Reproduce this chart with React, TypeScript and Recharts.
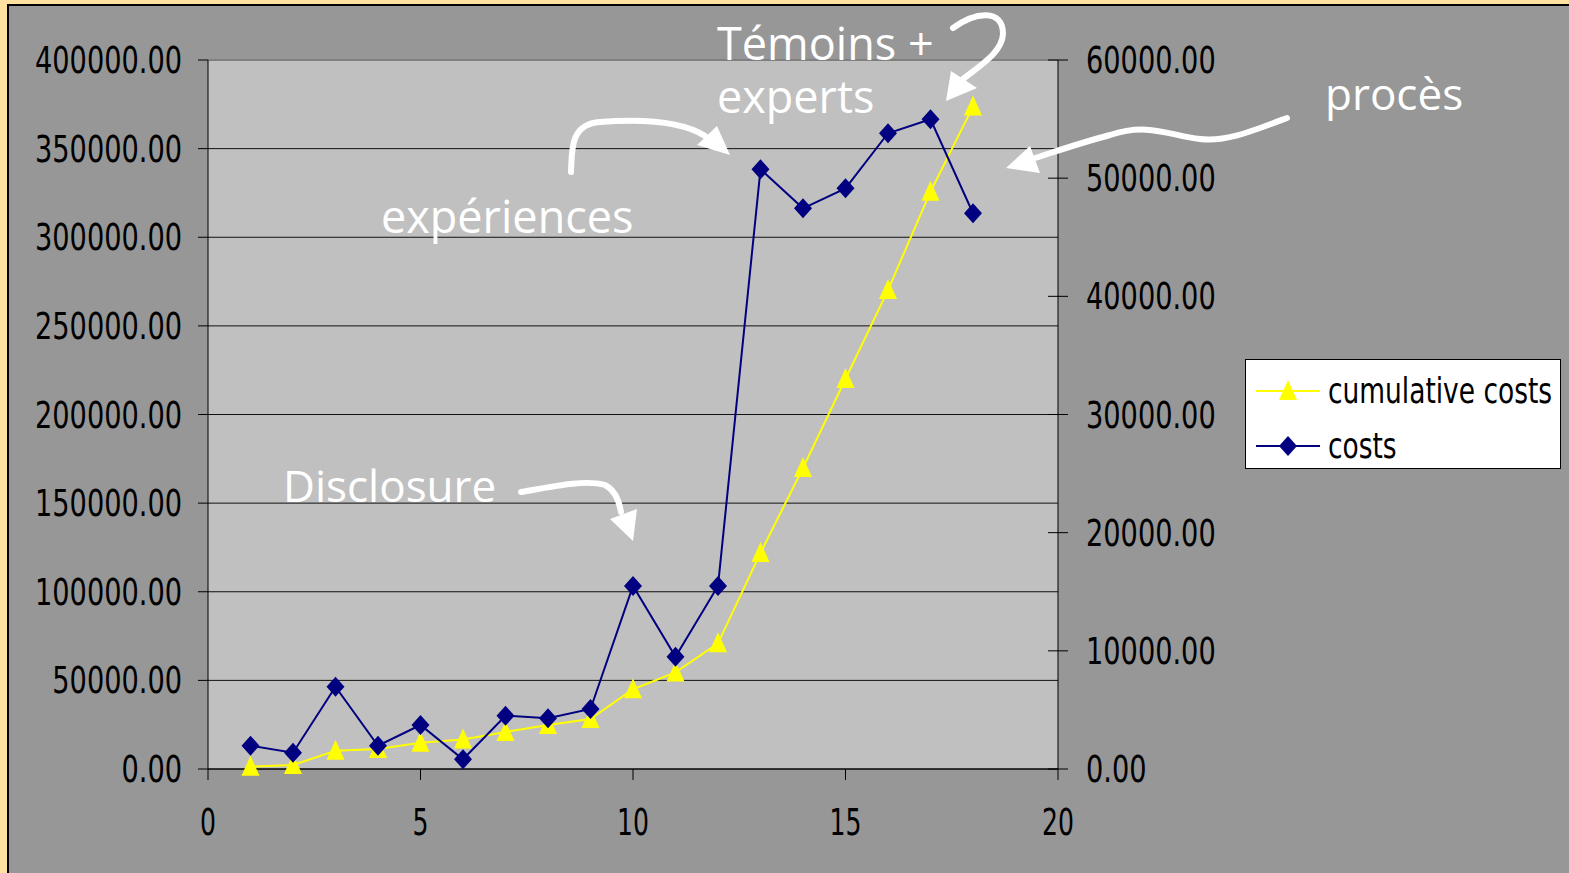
import React from 'react'
import {
  LineChart,
  Line,
  XAxis,
  YAxis,
  CartesianGrid,
  ReferenceLine,
  Legend,
} from 'recharts'

// ── Data ──────────────────────────────────────────────────────────────────────

const PERIODS = [1, 2, 3, 4, 5, 6, 7, 8, 9, 10, 11, 12, 13, 14, 15, 16, 17, 18]

const CUMULATIVE_COSTS = [
  1300, 2250, 10300, 11300, 14800, 16700, 20900, 24800, 28200,
  45000, 54500, 70900, 121900, 169800, 220000, 270200, 325700, 373700,
]

const COSTS = [
  1970, 1380, 6960, 1970, 3720, 820, 4510, 4290, 5080,
  15490, 9500, 15490, 50750, 47450, 49140, 53800, 54980, 47030,
]

const X_TICKS = [0, 5, 10, 15, 20]
const LEFT_TICKS = [0, 50000, 100000, 150000, 200000, 250000, 300000, 350000, 400000]
const RIGHT_TICKS = [0, 10000, 20000, 30000, 40000, 50000, 60000]

// legend order as in the original workbook
const SERIES_ORDER = ['cumulative', 'costs']

const data = PERIODS.map((p, i) => ({
  x: p,
  cumulative: CUMULATIVE_COSTS[i],
  costs: COSTS[i],
}))

// ── Style tokens ──────────────────────────────────────────────────────────────

const CREAM = '#FFE0A0'
const PANEL = '#979797'
const PLOT = '#C0C0C0'
const YELLOW = '#FFFF00'
const NAVY = '#000080'
const AXIS_FONT = '"DejaVu Sans", Verdana, sans-serif'
const NOTE_FONT = '"Open Sans", sans-serif'
const SQUEEZE = 0.735

// ── Ticks ─────────────────────────────────────────────────────────────────────

function LeftTick({ x, y, payload }: any) {
  return (
    <text
      transform={`translate(${x},${y + 13}) scale(${SQUEEZE},1)`}
      textAnchor="end"
      fontFamily={AXIS_FONT}
      fontSize={37}
      fill="#000"
    >
      {Number(payload.value).toFixed(2)}
    </text>
  )
}

function RightTick({ x, y, payload }: any) {
  // Excel draws the right ticks across the axis
  return (
    <g>
      <line x1={x - 38} x2={x - 28} y1={y} y2={y} stroke="#000" strokeWidth={1} />
      <text
        transform={`translate(${x},${y + 13}) scale(${SQUEEZE},1)`}
        textAnchor="start"
        fontFamily={AXIS_FONT}
        fontSize={37}
        fill="#000"
      >
        {Number(payload.value).toFixed(2)}
      </text>
    </g>
  )
}

function BottomTick({ x, y, payload }: any) {
  return (
    <text
      transform={`translate(${x},${y + 53}) scale(0.68,1)`}
      textAnchor="middle"
      fontFamily={AXIS_FONT}
      fontSize={37}
      fill="#000"
    >
      {payload.value}
    </text>
  )
}

// ── Markers ───────────────────────────────────────────────────────────────────

function triangleDot(props: any) {
  const { cx, cy, index } = props
  if (cx == null || cy == null) return <g key={`t${index}`} />
  return (
    <path
      key={`t${index}`}
      d={`M${cx},${cy - 11} L${cx + 9},${cy + 9} L${cx - 9},${cy + 9} Z`}
      fill={YELLOW}
    />
  )
}

function diamondDot(props: any) {
  const { cx, cy, index } = props
  if (cx == null || cy == null) return <g key={`d${index}`} />
  return (
    <path
      key={`d${index}`}
      d={`M${cx},${cy - 10} L${cx + 9},${cy} L${cx},${cy + 10} L${cx - 9},${cy} Z`}
      fill={NAVY}
    />
  )
}

// ── Legend ────────────────────────────────────────────────────────────────────

function LegendBox({ payload }: any) {
  const items = [...(payload ?? [])].sort(
    (a: any, b: any) => SERIES_ORDER.indexOf(a.dataKey) - SERIES_ORDER.indexOf(b.dataKey)
  )
  return (
    <svg width={316} height={110} style={{ display: 'block' }}>
      <rect x={0.5} y={0.5} width={315} height={109} fill="#fff" stroke="#000" />
      {items.map((item: any, i: number) => {
        const cy = i === 0 ? 32 : 87
        const isTri = item.dataKey === 'cumulative'
        return (
          <g key={item.value}>
            <line x1={11} x2={75} y1={cy} y2={cy} stroke={item.color} strokeWidth={2} />
            {isTri ? (
              <path d={`M43,${cy - 11} L52,${cy + 9} L34,${cy + 9} Z`} fill={YELLOW} />
            ) : (
              <path d={`M43,${cy - 10} L52,${cy} L43,${cy + 10} L34,${cy} Z`} fill={NAVY} />
            )}
            <text
              transform={`translate(83,${cy + 12}) scale(${SQUEEZE},1)`}
              fontFamily={AXIS_FONT}
              fontSize={36}
              fill="#000"
            >
              {item.value}
            </text>
          </g>
        )
      })}
    </svg>
  )
}

// ── Hand-drawn annotations ────────────────────────────────────────────────────

function Annotations() {
  const arrow = { fill: 'none', stroke: '#fff', strokeWidth: 6, strokeLinecap: 'round' as const }
  const label = { fontFamily: NOTE_FONT, fontSize: 44, fill: '#fff' }
  return (
    <svg
      width={1569}
      height={873}
      style={{ position: 'absolute', left: 0, top: 0, pointerEvents: 'none' }}
    >
      {/* two-line note, kept as one text block */}
      <text x={717} y={60} {...label} fontSize={45}>
        <tspan x={717} y={60}>Témoins +</tspan>
        <tspan x={717} y={113}>experts</tspan>
      </text>
      <text x={1325} y={110} {...label}>procès</text>
      <text x={381} y={233} {...label} fontSize={45}>expériences</text>
      <text x={283} y={502} {...label}>Disclosure</text>

      {/* Témoins + experts */}
      <path d="M953,28 C975,12 1003,8 1003,34 C1002,52 982,64 962,80" {...arrow} />
      <polygon points="946,101 951,71 977,88" fill="#fff" />

      {/* expériences */}
      <path d="M571,172 C572,150 570,124 600,122 C640,119 680,120 705,136" {...arrow} />
      <polygon points="697,145 717,126 730,155" fill="#fff" />

      {/* Disclosure */}
      <path d="M521,492 C550,487 585,479 605,485 C615,490 619,500 621,512" {...arrow} />
      <polygon points="610,519 637,509 633,541" fill="#fff" />

      {/* procès */}
      <path
        d="M1287,118 C1250,132 1225,142 1200,139 C1170,136 1150,122 1110,135 C1080,143 1060,150 1032,159"
        {...arrow}
      />
      <polygon points="1006,168 1030,146 1040,173" fill="#fff" />
    </svg>
  )
}

// ── Chart ─────────────────────────────────────────────────────────────────────

export default function App() {
  return (
    <div
      style={{
        position: 'absolute',
        left: 0,
        top: 0,
        width: 1569,
        height: 873,
        background: CREAM,
        overflow: 'hidden',
      }}
    >
      <div
        style={{
          position: 'absolute',
          left: 7,
          top: 4,
          right: 0,
          bottom: 0,
          background: PANEL,
          borderLeft: '2px solid #000',
          borderTop: '2px solid #000',
        }}
      />
      <div style={{ position: 'absolute', left: 0, top: 0 }}>
        <LineChart
          width={1569}
          height={873}
          data={data}
          margin={{ top: 60, right: 311, bottom: 44, left: 0 }}
        >
          <CartesianGrid
            yAxisId="left"
            vertical={false}
            stroke="#111"
            fill={PLOT}
            fillOpacity={1}
          />
          <XAxis
            type="number"
            dataKey="x"
            domain={[0, 20]}
            ticks={X_TICKS}
            height={60}
            tickSize={11}
            tickMargin={2}
            axisLine={{ stroke: '#000' }}
            tickLine={{ stroke: '#000' }}
            tick={<BottomTick />}
            interval={0}
          />
          <YAxis
            yAxisId="left"
            width={208}
            domain={[0, 400000]}
            ticks={LEFT_TICKS}
            tickSize={10}
            tickMargin={16}
            axisLine={{ stroke: '#000' }}
            tickLine={{ stroke: '#000' }}
            tick={<LeftTick />}
            interval={0}
          />
          <YAxis
            yAxisId="right"
            orientation="right"
            width={200}
            domain={[0, 60000]}
            ticks={RIGHT_TICKS}
            tickSize={10}
            tickMargin={18}
            axisLine={{ stroke: '#000' }}
            tickLine={{ stroke: '#000' }}
            tick={<RightTick />}
            interval={0}
          />
          <ReferenceLine yAxisId="left" y={400000} stroke="#808080" strokeWidth={2} />
          <Legend
            layout="vertical"
            align="center"
            verticalAlign="middle"
            content={<LegendBox />}
            wrapperStyle={{ position: 'absolute', left: 1245, top: 359, width: 316, height: 110 }}
          />
          <Line
            yAxisId="left"
            dataKey="cumulative"
            name="cumulative costs"
            stroke={YELLOW}
            strokeWidth={2}
            dot={triangleDot}
            activeDot={false}
            isAnimationActive={false}
          />
          <Line
            yAxisId="right"
            dataKey="costs"
            name="costs"
            stroke={NAVY}
            strokeWidth={2}
            dot={diamondDot}
            activeDot={false}
            isAnimationActive={false}
          />
        </LineChart>
      </div>
      <Annotations />
    </div>
  )
}
